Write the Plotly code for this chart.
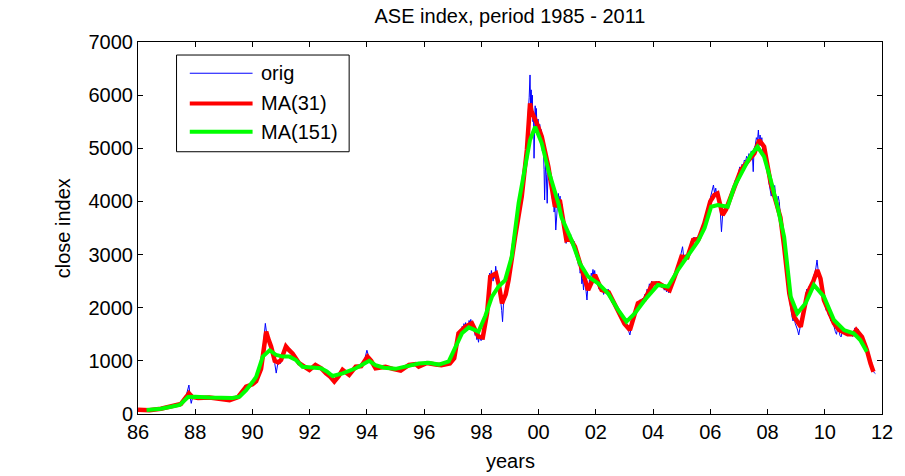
import plotly.graph_objects as go

# ASE close index as (decimal year, close) pairs, 1986-2011
orig = [
    (1986.00, 85), (1986.10, 75), (1986.20, 70), (1986.35, 65), (1986.50, 72), (1986.65, 85),
    (1986.80, 100), (1986.95, 110), (1987.10, 135), (1987.25, 160), (1987.40, 175), (1987.55, 210),
    (1987.65, 280), (1987.72, 420), (1987.78, 545), (1987.82, 330), (1987.86, 200), (1987.92, 340),
    (1988.00, 300), (1988.15, 310), (1988.30, 295), (1988.45, 320), (1988.60, 305), (1988.75, 290),
    (1988.90, 300), (1989.05, 280), (1989.20, 255), (1989.35, 270), (1989.50, 330), (1989.62, 400),
    (1989.75, 540), (1989.88, 480), (1990.00, 580), (1990.12, 600), (1990.22, 700), (1990.32, 950),
    (1990.40, 1350), (1990.45, 1705), (1990.50, 1500), (1990.56, 1450), (1990.62, 1300), (1990.70, 1150),
    (1990.78, 950), (1990.83, 770), (1990.90, 1000), (1990.98, 950), (1991.05, 1100), (1991.12, 1200),
    (1991.18, 1300), (1991.25, 1180), (1991.33, 1220), (1991.42, 1100), (1991.50, 1050), (1991.60, 980),
    (1991.70, 920), (1991.80, 880), (1991.90, 860), (1992.00, 800), (1992.10, 880), (1992.20, 950),
    (1992.30, 880), (1992.40, 850), (1992.50, 780), (1992.60, 750), (1992.70, 680), (1992.80, 630),
    (1992.88, 580), (1992.95, 660), (1993.05, 760), (1993.15, 860), (1993.25, 780), (1993.38, 720),
    (1993.50, 820), (1993.61, 900), (1993.75, 880), (1993.90, 980), (1994.00, 1200), (1994.08, 1050),
    (1994.18, 980), (1994.28, 880), (1994.40, 840), (1994.55, 880), (1994.70, 900), (1994.85, 860),
    (1995.00, 830), (1995.15, 800), (1995.30, 860), (1995.45, 940), (1995.60, 950), (1995.75, 900),
    (1995.90, 920), (1996.05, 980), (1996.20, 960), (1996.35, 920), (1996.50, 900), (1996.65, 940),
    (1996.80, 960), (1996.95, 1000),
    (1997.00, 1000), (1997.03, 1080), (1997.06, 1050), (1997.09, 1200), (1997.12, 1300), (1997.15, 1250),
    (1997.18, 1450), (1997.21, 1550), (1997.24, 1480), (1997.27, 1600), (1997.30, 1560), (1997.33, 1650),
    (1997.36, 1580), (1997.39, 1700), (1997.42, 1640), (1997.45, 1720), (1997.48, 1620), (1997.51, 1680),
    (1997.54, 1640), (1997.57, 1760), (1997.60, 1700), (1997.63, 1780), (1997.66, 1680), (1997.69, 1740),
    (1997.72, 1650), (1997.75, 1600), (1997.78, 1480), (1997.81, 1520), (1997.84, 1400), (1997.87, 1450),
    (1997.90, 1350), (1997.93, 1480), (1997.96, 1420), (1997.99, 1380), (1998.02, 1460), (1998.05, 1400),
    (1998.08, 1500), (1998.11, 1650), (1998.14, 1800), (1998.17, 1750), (1998.20, 2000), (1998.23, 2250),
    (1998.26, 2400), (1998.29, 2650), (1998.32, 2550), (1998.35, 2700), (1998.38, 2600), (1998.41, 2500),
    (1998.44, 2650), (1998.47, 2550), (1998.50, 2780), (1998.53, 2650), (1998.56, 2500), (1998.59, 2350),
    (1998.62, 2450), (1998.65, 2200), (1998.68, 2100), (1998.71, 1950), (1998.74, 1737), (1998.77, 2050),
    (1998.80, 2200), (1998.83, 2150), (1998.86, 2350), (1998.89, 2300), (1998.92, 2500), (1998.95, 2450),
    (1998.98, 2650), (1999.01, 2750), (1999.04, 2900), (1999.07, 2850), (1999.10, 3100), (1999.13, 3050),
    (1999.16, 3300), (1999.19, 3250), (1999.22, 3500), (1999.25, 3450), (1999.28, 3700), (1999.31, 3650),
    (1999.34, 3900), (1999.37, 3850), (1999.40, 4100), (1999.43, 4050), (1999.46, 4350), (1999.49, 4300),
    (1999.52, 4700), (1999.55, 4650), (1999.58, 5100), (1999.61, 5300), (1999.64, 5700), (1999.67, 5950),
    (1999.70, 6380), (1999.72, 5800), (1999.74, 6100), (1999.76, 5700), (1999.78, 6000), (1999.80, 5500),
    (1999.82, 5700), (1999.84, 4812), (1999.86, 5500), (1999.88, 5800), (1999.90, 5400), (1999.92, 5750),
    (1999.95, 5300), (1999.98, 5550), (2000.01, 5200), (2000.04, 5450), (2000.07, 5150), (2000.10, 5350),
    (2000.13, 4950), (2000.16, 5150), (2000.19, 4600), (2000.21, 4027), (2000.24, 4700), (2000.27, 4500),
    (2000.30, 3965), (2000.33, 4600), (2000.36, 4400), (2000.39, 4550), (2000.42, 4250), (2000.45, 4350),
    (2000.48, 4050), (2000.51, 4150), (2000.54, 3800), (2000.57, 3900), (2000.60, 3462), (2000.63, 3850),
    (2000.66, 3950), (2000.69, 4150), (2000.72, 4000), (2000.75, 4100), (2000.78, 3850), (2000.81, 3950),
    (2000.84, 3600), (2000.87, 3700), (2000.90, 3400), (2000.93, 3500), (2000.96, 3210), (2000.99, 3350),
    (2001.03, 3250), (2001.06, 3400), (2001.09, 3300), (2001.12, 3380), (2001.15, 3200), (2001.18, 3300),
    (2001.21, 3150), (2001.24, 3250), (2001.27, 3050), (2001.30, 3150), (2001.33, 2950), (2001.36, 3000),
    (2001.39, 2800), (2001.42, 2900), (2001.45, 2650), (2001.48, 2750), (2001.51, 2450), (2001.54, 2550),
    (2001.57, 2333), (2001.60, 2550), (2001.63, 2450), (2001.66, 2300), (2001.69, 2145), (2001.72, 2400),
    (2001.75, 2350), (2001.78, 2550), (2001.81, 2500), (2001.84, 2650), (2001.87, 2600), (2001.90, 2720),
    (2001.93, 2600), (2001.96, 2700), (2001.99, 2550), (2002.03, 2450), (2002.07, 2500), (2002.11, 2350),
    (2002.15, 2420), (2002.19, 2300), (2002.23, 2380), (2002.27, 2250), (2002.31, 2350), (2002.35, 2300),
    (2002.39, 2250), (2002.43, 2350), (2002.47, 2200), (2002.51, 2250), (2002.55, 2100), (2002.59, 2150),
    (2002.63, 2050), (2002.67, 2100), (2002.71, 1980), (2002.75, 2020), (2002.79, 1900), (2002.83, 1950),
    (2002.87, 1850), (2002.91, 1880), (2002.95, 1750), (2002.99, 1780), (2003.03, 1680), (2003.07, 1700),
    (2003.11, 1600), (2003.15, 1550), (2003.19, 1487), (2003.23, 1620), (2003.27, 1700), (2003.31, 1850),
    (2003.35, 1800), (2003.39, 1980), (2003.43, 1950), (2003.47, 2100), (2003.51, 2050), (2003.55, 2150),
    (2003.59, 2050), (2003.63, 2180), (2003.67, 2120), (2003.71, 2250), (2003.75, 2200), (2003.79, 2350),
    (2003.83, 2300), (2003.87, 2450), (2003.91, 2400), (2003.95, 2500), (2003.99, 2430), (2004.03, 2480),
    (2004.07, 2420), (2004.11, 2500), (2004.15, 2450), (2004.19, 2480), (2004.23, 2400), (2004.27, 2450),
    (2004.31, 2380), (2004.35, 2420), (2004.39, 2330), (2004.43, 2380), (2004.47, 2300), (2004.51, 2350),
    (2004.55, 2280), (2004.59, 2380), (2004.63, 2450), (2004.67, 2520), (2004.71, 2600), (2004.75, 2580),
    (2004.79, 2700), (2004.83, 2680), (2004.87, 2800), (2004.91, 2850), (2004.95, 2950), (2004.99, 3050),
    (2005.03, 3148), (2005.07, 2950), (2005.11, 2900), (2005.15, 3000), (2005.19, 2950), (2005.23, 3050),
    (2005.27, 3100), (2005.31, 3200), (2005.35, 3280), (2005.39, 3250), (2005.43, 3330), (2005.47, 3280),
    (2005.51, 3300), (2005.55, 3250), (2005.59, 3380), (2005.63, 3350), (2005.67, 3450), (2005.71, 3500),
    (2005.75, 3600), (2005.79, 3650), (2005.83, 3750), (2005.87, 3800), (2005.91, 3900), (2005.95, 3950),
    (2005.99, 4050), (2006.03, 4150), (2006.07, 4200), (2006.11, 4309), (2006.15, 4150), (2006.19, 4250),
    (2006.23, 4100), (2006.27, 4150), (2006.31, 3950), (2006.35, 3800), (2006.39, 3430), (2006.43, 3750),
    (2006.47, 3800), (2006.51, 3900), (2006.55, 3850), (2006.59, 3950), (2006.63, 4000), (2006.67, 4050),
    (2006.71, 4150), (2006.75, 4100), (2006.79, 4250), (2006.83, 4300), (2006.87, 4400), (2006.91, 4380),
    (2006.95, 4500), (2006.99, 4550), (2007.03, 4650), (2007.07, 4600), (2007.11, 4700), (2007.15, 4650),
    (2007.19, 4780), (2007.23, 4750), (2007.27, 4850), (2007.31, 4800), (2007.35, 4900), (2007.39, 4850),
    (2007.43, 4950), (2007.47, 4900), (2007.50, 4560), (2007.53, 5000), (2007.57, 5050), (2007.61, 5200),
    (2007.65, 5150), (2007.68, 5344), (2007.71, 5100), (2007.74, 5250), (2007.77, 5050), (2007.80, 5200),
    (2007.83, 4950), (2007.86, 5050), (2007.89, 4850), (2007.93, 4900), (2007.97, 4650), (2008.01, 4600),
    (2008.05, 4350), (2008.09, 4200), (2008.13, 4100), (2008.17, 4350), (2008.21, 4250), (2008.25, 4300),
    (2008.29, 4000), (2008.33, 3850), (2008.37, 4100), (2008.41, 4000), (2008.45, 3700), (2008.49, 3550),
    (2008.53, 3350), (2008.57, 3200), (2008.61, 2950), (2008.65, 2700), (2008.69, 2500), (2008.73, 2350),
    (2008.77, 2150), (2008.81, 1950), (2008.85, 1850), (2008.89, 1750), (2008.93, 1800), (2008.97, 1700),
    (2009.01, 1650), (2009.05, 1580), (2009.09, 1487), (2009.13, 1600), (2009.17, 1700), (2009.21, 1800),
    (2009.25, 1950), (2009.29, 2100), (2009.33, 2200), (2009.37, 2350), (2009.41, 2300), (2009.45, 2400),
    (2009.49, 2350), (2009.53, 2450), (2009.57, 2500), (2009.61, 2600), (2009.65, 2650), (2009.69, 2750),
    (2009.73, 2898), (2009.77, 2700), (2009.81, 2600), (2009.85, 2550), (2009.89, 2400), (2009.93, 2250),
    (2009.97, 2150), (2010.01, 2100), (2010.05, 1950), (2010.09, 2000), (2010.13, 1850), (2010.17, 1900),
    (2010.21, 1750), (2010.25, 1800), (2010.29, 1700), (2010.33, 1650), (2010.37, 1550), (2010.41, 1500),
    (2010.45, 1620), (2010.49, 1600), (2010.53, 1480), (2010.57, 1450), (2010.61, 1550), (2010.65, 1520),
    (2010.69, 1600), (2010.73, 1500), (2010.77, 1520), (2010.81, 1470), (2010.85, 1500), (2010.89, 1550),
    (2010.93, 1500), (2010.97, 1460), (2011.01, 1500), (2011.05, 1620), (2011.09, 1580), (2011.13, 1550),
    (2011.17, 1600), (2011.21, 1480), (2011.25, 1450), (2011.29, 1400), (2011.33, 1330), (2011.37, 1300),
    (2011.41, 1250), (2011.45, 1180), (2011.49, 1120), (2011.53, 1050), (2011.57, 980), (2011.61, 900),
    (2011.65, 850), (2011.69, 800), (2011.73, 780), (2011.77, 760),
]
orig_t = [t for t, _ in orig]
orig_v = [v for _, v in orig]

# 31-day moving average
ma31_t = [1986.00, 1986.40, 1986.80, 1987.20, 1987.50, 1987.70, 1987.78, 1987.90, 1988.10, 1988.50,
          1988.90, 1989.20, 1989.50, 1989.78, 1990.00, 1990.13, 1990.30, 1990.42, 1990.48, 1990.55,
          1990.65, 1990.78, 1990.90, 1991.00, 1991.17, 1991.28, 1991.40, 1991.63, 1991.80, 1991.99,
          1992.20, 1992.40, 1992.57, 1992.72, 1992.86, 1993.00, 1993.15, 1993.38, 1993.61, 1993.80,
          1994.02, 1994.15, 1994.30, 1994.50, 1994.65, 1994.90, 1995.18, 1995.47, 1995.70, 1995.81,
          1996.10, 1996.40, 1996.60, 1996.90, 1997.05, 1997.20, 1997.44, 1997.67, 1997.90, 1998.05,
          1998.20, 1998.31, 1998.51, 1998.62, 1998.72, 1998.85, 1998.95, 1999.18, 1999.41, 1999.59,
          1999.70, 1999.75, 1999.82, 1999.94, 2000.11, 2000.34, 2000.57, 2000.74, 2000.97, 2001.10,
          2001.27, 2001.56, 2001.73, 2001.97, 2002.20, 2002.45, 2002.78, 2003.00, 2003.19, 2003.47,
          2003.70, 2003.99, 2004.20, 2004.58, 2004.80, 2004.99, 2005.20, 2005.40, 2005.60, 2005.80,
          2006.00, 2006.14, 2006.25, 2006.43, 2006.55, 2006.72, 2007.07, 2007.30, 2007.54, 2007.71,
          2007.88, 2008.11, 2008.30, 2008.45, 2008.58, 2008.76, 2008.93, 2009.16, 2009.39, 2009.60,
          2009.74, 2009.85, 2009.97, 2010.32, 2010.50, 2010.80, 2011.00, 2011.10, 2011.30, 2011.47,
          2011.60, 2011.70]
ma31_v = [80, 70, 100, 150, 190, 330, 390, 320, 300, 310,
          290, 260, 320, 515, 560, 620, 850, 1400, 1550, 1420,
          1270, 1000, 970, 1016, 1270, 1200, 1140, 955, 900, 830,
          922, 860, 765, 700, 610, 700, 830, 735, 890, 900,
          1080, 1000, 860, 870, 890, 850, 815, 922, 940, 890,
          960, 930, 920, 950, 1050, 1518, 1643, 1706, 1455, 1440,
          1900, 2584, 2645, 2400, 2083, 2250, 2520, 3335, 4090, 4968,
          5845, 5700, 5594, 5470, 5218, 4655, 3900, 4027, 3274, 3300,
          3148, 2647, 2333, 2616, 2333, 2290, 1957, 1700, 1580, 2083,
          2150, 2458, 2460, 2333, 2650, 2960, 2950, 3274, 3300, 3600,
          4000, 4121, 4150, 3745, 3850, 4090, 4592, 4750, 4905, 5156,
          5030, 4342, 4000, 3700, 3148, 2270, 1830, 1643, 2270, 2500,
          2710, 2550, 2145, 1706, 1580, 1500, 1500, 1580, 1450, 1204,
          950, 796]

# 151-day moving average
ma151_t = [1986.30, 1986.80, 1987.20, 1987.46, 1987.75, 1988.00, 1988.50, 1989.00, 1989.30, 1989.55,
           1989.78, 1990.00, 1990.13, 1990.36, 1990.60, 1990.83, 1991.06, 1991.29, 1991.52, 1991.75,
           1992.10, 1992.39, 1992.60, 1992.80, 1993.15, 1993.61, 1993.85, 1994.08, 1994.30, 1994.60,
           1995.00, 1995.35, 1995.81, 1996.16, 1996.51, 1996.86, 1997.09, 1997.32, 1997.56, 1997.90,
           1998.14, 1998.37, 1998.60, 1998.83, 1999.06, 1999.30, 1999.53, 1999.70, 1999.88, 2000.11,
           2000.34, 2000.69, 2000.80, 2001.15, 2001.44, 2001.73, 2002.08, 2002.43, 2002.78, 2003.07,
           2003.36, 2003.71, 2004.17, 2004.52, 2004.87, 2005.22, 2005.57, 2005.80, 2006.03, 2006.26,
           2006.61, 2006.84, 2007.19, 2007.42, 2007.65, 2007.88, 2008.11, 2008.35, 2008.58, 2008.70,
           2008.81, 2009.04, 2009.33, 2009.62, 2009.97, 2010.32, 2010.67, 2011.01, 2011.24, 2011.47]
ma151_v = [75, 100, 140, 170, 320, 325, 310, 300, 300, 325,
           450, 600, 700, 1080, 1200, 1110, 1080, 1080, 1016, 890,
           878, 860, 800, 715, 765, 860, 930, 1000, 920, 870,
           850, 900, 950, 965, 930, 990, 1235, 1518, 1630, 1550,
           1850, 2208, 2400, 2520, 2960, 3965, 4655, 5156, 5407, 5093,
           4592, 3965, 3700, 3274, 2836, 2584, 2458, 2270, 1957, 1737,
           1894, 2145, 2427, 2396, 2710, 2990, 3250, 3500, 3900, 3933,
           3900, 4278, 4655, 4874, 5030, 4843, 4403, 3900, 3336, 2647,
           2208, 1894, 2083, 2427, 2208, 1769, 1580, 1518, 1393, 1173]

year_ticks = [1986, 1988, 1990, 1992, 1994, 1996, 1998, 2000, 2002, 2004, 2006, 2008, 2010, 2012]
year_labels = ["86", "88", "90", "92", "94", "96", "98", "00", "02", "04", "06", "08", "10", "12"]
legend_names = ["orig", "MA(31)", "MA(151)"]

FONT = "Liberation Sans, Arial, sans-serif"
BLUE, RED, GREEN = "#0000ff", "#ff0000", "#00ff00"

fig = go.Figure()
fig.add_trace(go.Scatter(x=orig_t, y=orig_v, mode="lines", name=legend_names[0],
                         line=dict(color=BLUE, width=1)))
fig.add_trace(go.Scatter(x=ma31_t, y=ma31_v, mode="lines", name=legend_names[1],
                         line=dict(color=RED, width=4.5)))
fig.add_trace(go.Scatter(x=ma151_t, y=ma151_v, mode="lines", name=legend_names[2],
                         line=dict(color=GREEN, width=4)))

axis_style = dict(showline=True, linecolor="black", linewidth=1, mirror="ticks",
                  ticks="inside", ticklen=5, tickcolor="black", showgrid=False,
                  zeroline=False, tickfont=dict(family=FONT, size=20, color="black"))

fig.update_xaxes(range=[1986, 2012], tickvals=year_ticks, ticktext=year_labels, **axis_style)
fig.update_yaxes(range=[0, 7000], tickvals=list(range(0, 7001, 1000)), **axis_style)

# boxed legend in the upper-left corner of the axes
shapes = [dict(type="rect", xref="paper", yref="paper", x0=0.0518, x1=0.2838, y0=0.705, y1=0.965,
               line=dict(color="black", width=1), fillcolor="white", layer="above")]
annotations = []
for name, color, width, ly in zip(legend_names, [BLUE, RED, GREEN], [1, 4, 4], [0.916, 0.835, 0.759]):
    shapes.append(dict(type="line", xref="paper", yref="paper", x0=0.0696, x1=0.154, y0=ly, y1=ly,
                       line=dict(color=color, width=width), layer="above"))
    annotations.append(dict(text=name, xref="paper", yref="paper", x=0.163, y=ly,
                            xanchor="left", yanchor="middle", showarrow=False,
                            font=dict(family=FONT, size=20, color="black")))

annotations.append(dict(text="years", xref="paper", yref="paper", x=0.5, y=-0.126,
                        xanchor="center", yanchor="middle", showarrow=False,
                        font=dict(family=FONT, size=20, color="black")))
annotations.append(dict(text="close index", xref="paper", yref="paper", x=-0.1004, y=0.5,
                        xanchor="center", yanchor="middle", textangle=-90, showarrow=False,
                        font=dict(family=FONT, size=20, color="black")))

fig.update_layout(
    width=905, height=476,
    margin=dict(l=138, r=20, t=42, b=62),
    paper_bgcolor="white", plot_bgcolor="white",
    showlegend=False,
    title=dict(text="ASE index, period 1985 - 2011", x=0.5, xref="paper",
               y=1 - 16 / 476, yref="container", yanchor="middle",
               font=dict(family=FONT, size=20, color="black")),
    shapes=shapes,
    annotations=annotations,
)

fig.write_html("out.html")
